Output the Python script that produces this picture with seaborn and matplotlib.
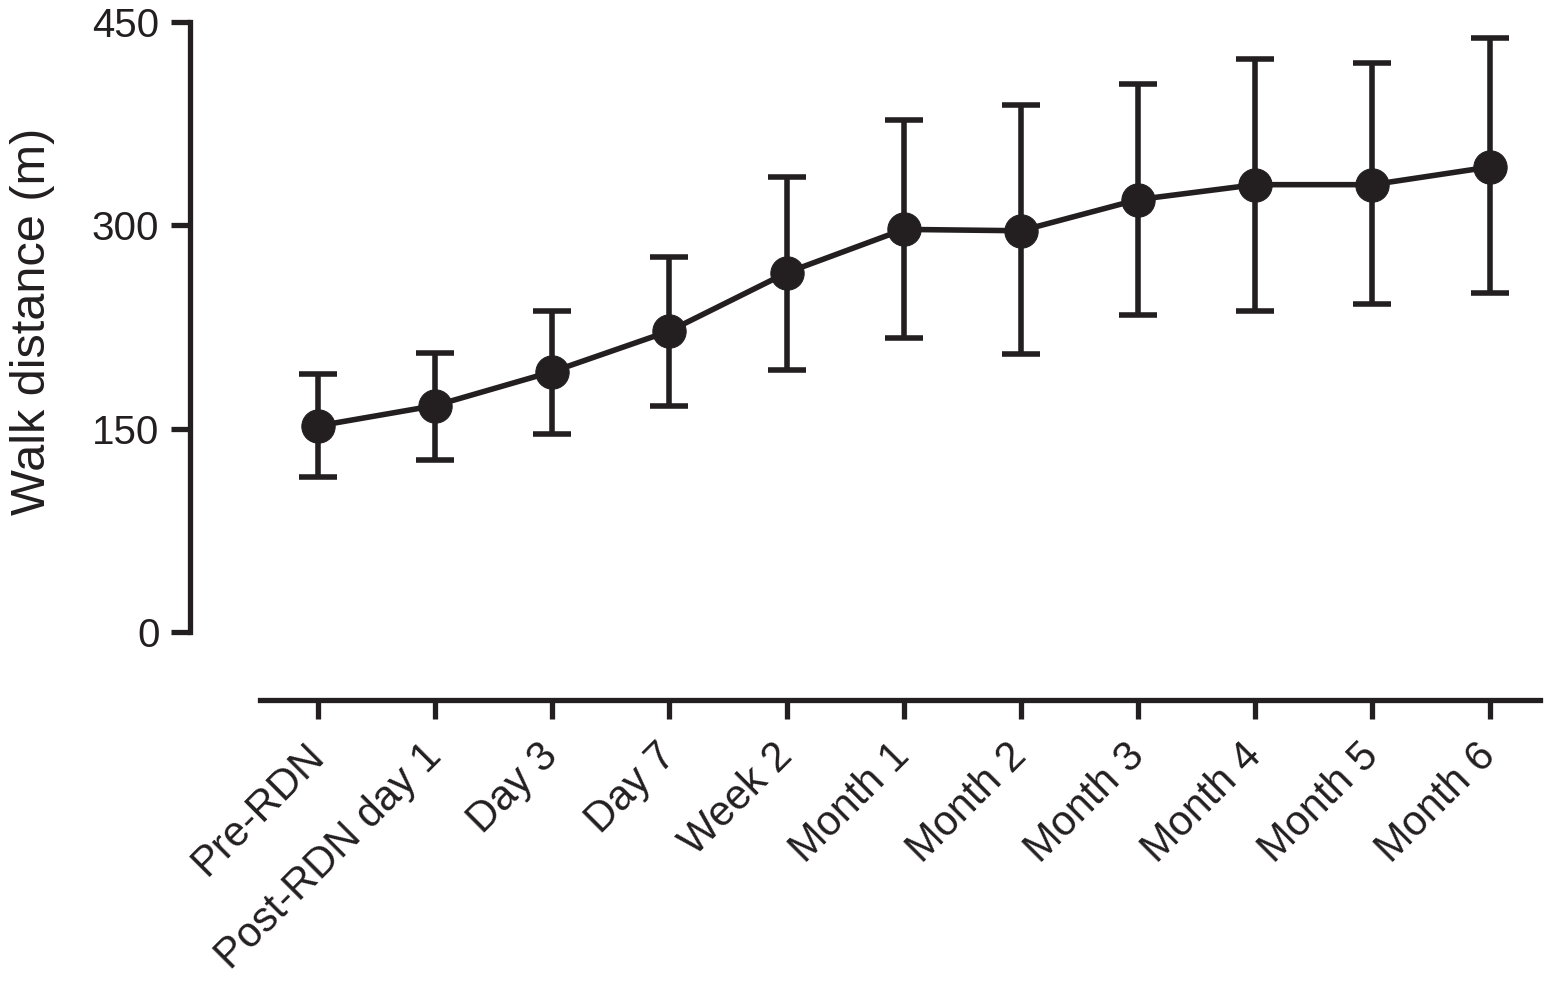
import numpy as np
import pandas as pd
import matplotlib
matplotlib.use("Agg")
import matplotlib.pyplot as plt
import seaborn as sns

# data
timepoints = ['Pre-RDN', 'Post-RDN day 1', 'Day 3', 'Day 7', 'Week 2', 'Month 1',
              'Month 2', 'Month 3', 'Month 4', 'Month 5', 'Month 6']
mean_dist = [152, 167, 192, 222, 265, 297, 296, 319, 330, 330, 343]
upper = [190, 206, 237, 277, 336, 378, 389, 404, 423, 420, 438]
lower = [114, 127, 146, 167, 193, 217, 205, 234, 237, 242, 250]

sns.set_style("ticks")
plt.rcParams['font.family'] = ['Liberation Sans', 'DejaVu Sans']

col = '#231f20'
df = pd.DataFrame({'pos': np.arange(len(timepoints)), 'dist': mean_dist})
err = [np.array(mean_dist) - np.array(lower), np.array(upper) - np.array(mean_dist)]

fig = plt.figure(figsize=(15.53, 9.83), dpi=100)
ax = fig.add_axes([0.1223, 0.2879, 0.8693, 0.6897])

ax.errorbar(df['pos'], df['dist'], yerr=err, fmt='none', ecolor=col,
            elinewidth=4, capsize=14, capthick=4, zorder=2)
sns.lineplot(data=df, x='pos', y='dist', color=col, linewidth=4,
             marker='o', markersize=24, markeredgecolor=col, ax=ax, zorder=3)

ax.set_xlim(-1.092, 10.43)
ax.set_ylim(-50.2, 450)
ax.set_yticks([0, 150, 300, 450])
ax.set_xticks(df['pos'])
ax.set_xticklabels(timepoints, rotation=45, ha='right', va='center',
                   rotation_mode='anchor')
ax.tick_params(axis='both', width=3.8, length=14, color=col,
               labelcolor=col, direction='out')
ax.tick_params(axis='x', pad=22, labelsize=30)
ax.tick_params(axis='y', pad=8, labelsize=29)
ax.set_xlabel('')
ax.set_ylabel('Walk distance (m)', fontsize=35, color=col)
ax.yaxis.set_label_coords(-0.100, 0.559)

for s in ['top', 'right']:
    ax.spines[s].set_visible(False)
for s in ['left', 'bottom']:
    ax.spines[s].set_linewidth(3.8)
    ax.spines[s].set_color(col)
ax.spines['left'].set_bounds(0, 450)
ax.spines['bottom'].set_bounds(-0.495, 10.43)

fig.savefig('out.png', dpi=100)
